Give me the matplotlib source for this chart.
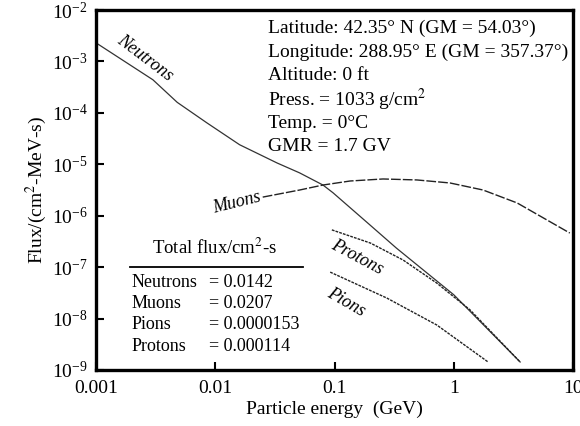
import numpy as np
import matplotlib
matplotlib.use('Agg')
import matplotlib.pyplot as plt

plt.rcParams['font.family'] = ['Liberation Serif', 'DejaVu Serif']
plt.rcParams['mathtext.fontset'] = 'stix'

# curves (energy in GeV, flux per cm2-MeV-s)
neutron_e = [0.001, 0.003, 0.0048, 0.0085, 0.016, 0.033, 0.051, 0.08, 0.097, 0.19, 0.33, 1.0, 3.6]
neutron_f = [2.3e-3, 4.4e-4, 1.6e-4, 6.4e-5, 2.4e-5, 1.06e-5, 6.8e-6, 3.95e-6, 2.8e-6, 7.2e-7, 2.35e-7, 2.9e-8, 1.43e-9]

muon_e = [0.025, 0.051, 0.08, 0.135, 0.255, 0.49, 0.93, 1.76, 3.4, 9.4]
muon_f = [2.3e-6, 3.16e-6, 3.95e-6, 4.73e-6, 5.18e-6, 4.96e-6, 4.33e-6, 3.16e-6, 1.77e-6, 4.6e-7]

proton_e = [0.095, 0.2, 0.375, 0.72, 1.37, 3.6]
proton_f = [5.3e-7, 2.94e-7, 1.38e-7, 4.9e-8, 1.47e-8, 1.43e-9]

pion_e = [0.092, 0.275, 0.72, 1.94]
pion_f = [8.0e-8, 2.5e-8, 7.5e-9, 1.43e-9]

xtick_vals = [0.001, 0.01, 0.1, 1, 10]
xtick_labels = ['0.001', '0.01', '0.1', '1', '10']

site_lines = ['Latitude: 42.35° N (GM = 54.03°)',
              'Longitude: 288.95° E (GM = 357.37°)',
              'Altitude: 0 ft',
              'Press. = 1033 g/cm$^2$',
              'Temp. = 0°C',
              'GMR = 1.7 GV']

particles = ['Neutrons', 'Muons', 'Pions', 'Protons']
total_flux = ['0.0142', '0.0207', '0.0000153', '0.000114']

fig = plt.figure(figsize=(5.8, 4.26), dpi=100)
ax = fig.add_axes([0.1655, 0.1315, 0.8225, 0.845])

lc = '#222222'
ax.plot(neutron_e, neutron_f, color='#333333', lw=0.9)
ax.plot(muon_e, muon_f, color=lc, lw=1.0, linestyle=(0, (7, 1.5)))
ax.plot(proton_e, proton_f, color=lc, lw=1.0, linestyle=(0, (2, 0.8)))
ax.plot(pion_e, pion_f, color=lc, lw=1.0, linestyle=(0, (2, 0.8)))

ax.set_xscale('log')
ax.set_yscale('log')
ax.set_xlim(0.001, 10)
ax.set_ylim(1e-9, 1e-2)
ax.set_xticks(xtick_vals)
ax.set_xticklabels(xtick_labels)
ax.minorticks_off()
ax.tick_params(direction='in', length=6, width=1.5, labelsize=14)
ax.tick_params(axis='x', pad=7)
ax.tick_params(axis='y', pad=6)
for s in ax.spines.values():
    s.set_linewidth(2.4)

ax.set_xlabel('Particle energy  (GeV)', fontsize=14, labelpad=3)
ax.set_ylabel('Flux/(cm$^2$-MeV-s)', fontsize=14, labelpad=2)

# curve labels
ax.text(0.00258, 1.17e-3, 'Neutrons', rotation=-37, fontsize=13, style='italic',
        ha='center', va='center')
ax.text(0.0152, 1.77e-6, 'Muons', rotation=14, fontsize=13, style='italic',
        ha='center', va='center')
ax.text(0.1545, 1.57e-7, 'Protons', rotation=-28, fontsize=13, style='italic',
        ha='center', va='center')
ax.text(0.125, 2.1e-8, 'Pions', rotation=-30, fontsize=13, style='italic',
        ha='center', va='center')

# site info block
site_y = [0.95, 0.883, 0.817, 0.75, 0.686, 0.622]
for txt, yy in zip(site_lines, site_y):
    ax.text(0.3606, yy, txt, transform=ax.transAxes, fontsize=14,
            ha='left', va='center')

# total flux table
ax.text(0.248, 0.339, 'Total flux/cm$^2$-s', transform=ax.transAxes,
        fontsize=13.5, ha='center', va='center')
ax.plot([0.071, 0.434], [0.286, 0.286], transform=ax.transAxes, color='black', lw=1.3)
row_y = [0.244, 0.186, 0.125, 0.064]
for name, val, yy in zip(particles, total_flux, row_y):
    ax.text(0.0755, yy, name, transform=ax.transAxes, fontsize=13, ha='left', va='center')
    ax.text(0.237, yy, '= ' + val, transform=ax.transAxes, fontsize=13, ha='left', va='center')

fig.savefig('out.png', dpi=100)
